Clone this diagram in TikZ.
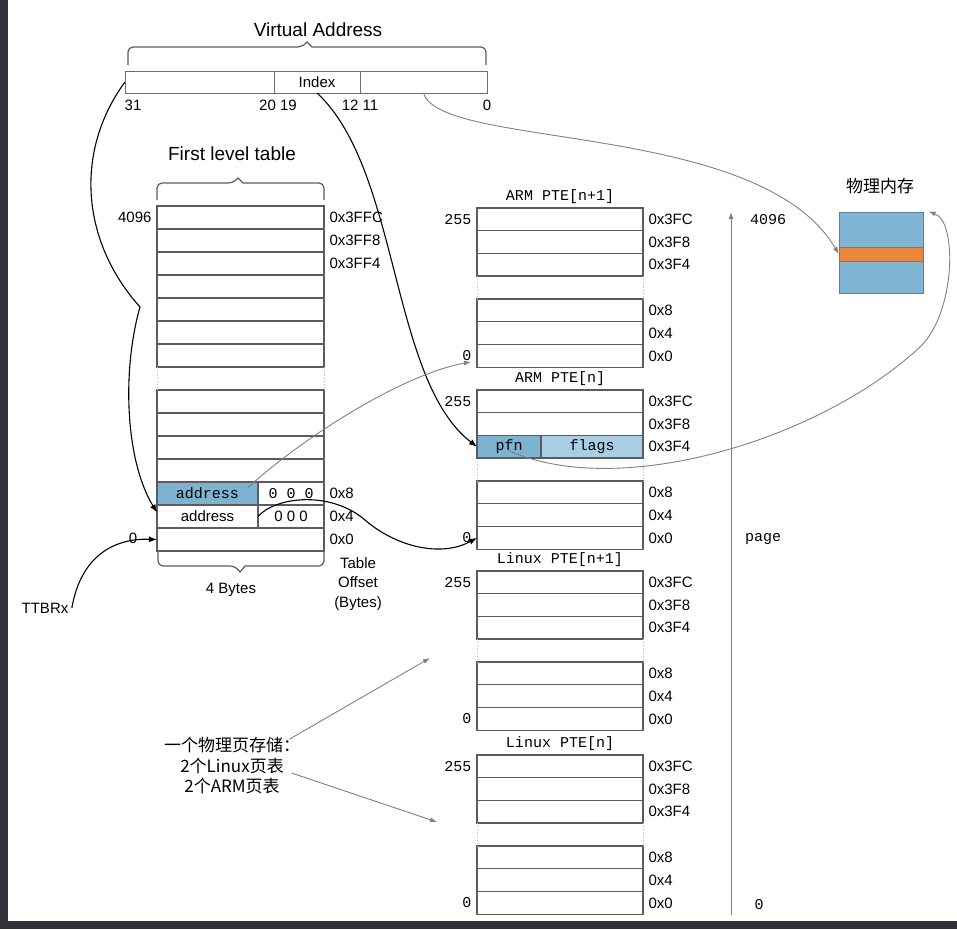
\documentclass[tikz,border=0pt]{standalone}
\usepackage{fontspec}
\setmainfont{Liberation Sans}
\newfontfamily\cjk{Noto Sans CJK SC}
\newfontfamily\simmono{Liberation Mono}
\usetikzlibrary{positioning,arrows.meta,calc}
\definecolor{cellline}{HTML}{5C5C5C}
\definecolor{valine}{HTML}{6E6E6E}
\definecolor{linkgray}{HTML}{808080}
\definecolor{gapgray}{HTML}{BBBBBB}
\definecolor{addrblue}{HTML}{7DB3D1}
\definecolor{flagblue}{HTML}{A9CEE4}
\definecolor{memblue}{HTML}{80B6D4}
\definecolor{memline}{HTML}{5E7F98}
\definecolor{memorange}{HTML}{E8873A}
\definecolor{darkframe}{HTML}{303238}

% one second level table: name, top edge, title
\newcommand{\ptetable}[3]{%
  \node[monotxt] (#1-title) at (560,#2-11) {#3};
  \foreach \i in {1,2,3}
    \node[pterow] (#1-\i) at (560,{#2-11.35+22.7*\i}) {};
  \foreach \i in {4,5,6}
    \node[pterow] (#1-\i) at (560,{#2+11.65+22.7*\i}) {};
  \foreach \i/\off in {1/0x3FC,2/0x3F8,3/0x3F4,4/0x8,5/0x4,6/0x0}
    \node[arialtxt, right=2pt of #1-\i] (#1-off\i) {\off};
  \node[monotxt, left=2pt of #1-1] (#1-max) {255};
  \node[monotxt, left=2pt of #1-6] (#1-min) {0};
  \draw[gapline] (#1-3.south west) -- (#1-4.north west);
  \draw[gapline] (#1-3.south east) -- (#1-4.north east);
}

\begin{document}
\begin{tikzpicture}[x=1pt, y=-1pt,
cell/.style={draw=cellline, line width=1.3pt, minimum width=167pt, minimum height=23pt, inner sep=0pt, outer sep=0pt},
pterow/.style={cell, minimum width=166pt, minimum height=22.7pt},
vacell/.style={draw=valine, line width=1pt, minimum height=22pt, inner sep=0pt, outer sep=0pt, font=\fontsize{15}{18}\selectfont},
arialtxt/.style={font=\fontsize{15}{18}\selectfont},
bigtxt/.style={font=\fontsize{19}{23}\selectfont},
monotxt/.style={font=\simmono\fontsize{15}{18}\selectfont},
cjktxt/.style={font=\cjk\fontsize{17}{20.5}\selectfont},
gapline/.style={draw=gapgray, dotted, line width=0.8pt},
bracket/.style={draw=cellline, line width=1.2pt},
link/.style={draw=black, line width=1.1pt, -{Latex[length=8pt,width=6pt]}},
graylink/.style={draw=linkgray, line width=0.9pt, -{Latex[length=7pt,width=5pt]}},
]
\useasboundingbox (0,0) rectangle (957,929);
\fill[darkframe] (0,0) rectangle (8,929);
\fill[darkframe] (0,921) rectangle (957,929);

% virtual address
\node[bigtxt] (va-title) at (318,30) {Virtual Address};
\draw[bracket] (128,65) [rounded corners=5pt] -- (128,47) -- (302,47) [sharp corners] -- (307,42) -- (312,47) [rounded corners=5pt] -- (486,47) -- (486,65);
\node[vacell, minimum width=149pt] (va-hi) at (199.5,82) {};
\node[vacell, minimum width=86pt, right=0pt of va-hi] (va-idx) {Index};
\node[vacell, minimum width=127pt, right=0pt of va-idx] (va-lo) {};
\node[arialtxt] (bit31) at (133,105) {31};
\node[arialtxt] (bit20) at (278,105) {20 19};
\node[arialtxt] (bit12) at (360,105) {12 11};
\node[arialtxt] (bit0) at (487,105) {0};

% first level table
\node[bigtxt] (fl-title) at (232,154) {First level table};
\draw[bracket] (157,200) [rounded corners=5pt] -- (157,183) -- (233,183) [sharp corners] -- (238,178) -- (243,183) [rounded corners=5pt] -- (324,183) -- (324,200);
\foreach \i in {1,...,7}
  \node[cell] (fl-\i) at (240.5,{194.5+23*\i}) {};
\foreach \i in {8,...,14}
  \node[cell] (fl-\i) at (240.5,{217.5+23*\i}) {};
\foreach \i/\off in {1/0x3FFC,2/0x3FF8,3/0x3FF4,12/0x8,13/0x4,14/0x0}
  \node[arialtxt, right=2pt of fl-\i] (fl-off\i) {\off};
\draw[gapline] (fl-7.south west) -- (fl-8.north west);
\draw[gapline] (fl-7.south east) -- (fl-8.north east);
\node[arialtxt, left=2pt of fl-1] (fl-max) {4096};
\node[cell, fill=addrblue, minimum width=101pt, anchor=west, monotxt] (fl-addr1) at (fl-12.west) {address};
\node[cell, minimum width=66pt, right=0pt of fl-addr1, monotxt] (fl-bits1) {0 0 0};
\node[cell, minimum width=101pt, anchor=west, arialtxt] (fl-addr2) at (fl-13.west) {address};
\node[cell, minimum width=66pt, right=0pt of fl-addr2, arialtxt] (fl-bits2) {0 0 0};
\draw[bracket] (158,551) [rounded corners=5pt] -- (158,566) -- (235,566) [sharp corners] -- (240,572) -- (245,566) [rounded corners=5pt] -- (324,566) -- (324,551);
\node[arialtxt] (fl-width) at (231,590) {4 Bytes};
\node[arialtxt, align=center, font=\fontsize{15}{19.5}\selectfont] (fl-offset) at (358,584) {Table\\Offset\\(Bytes)};

% second level tables
\ptetable{armnp}{208}{ARM PTE[n+1]}
\ptetable{armn}{390}{ARM PTE[n]}
\ptetable{linnp}{571}{Linux PTE[n+1]}
\ptetable{linn}{755}{Linux PTE[n]}
\node[pterow, fill=addrblue, minimum width=64pt, anchor=west, monotxt] (armn-pfn) at (armn-3.west) {pfn};
\node[pterow, fill=flagblue, minimum width=102pt, right=0pt of armn-pfn, monotxt] (armn-flags) {flags};

% page axis
\coordinate (page-lo) at (731,915);
\coordinate (page-hi) at (731,212);
\draw[graylink] (page-lo) -- (page-hi);
\node[monotxt] (page-max) at (768,220) {4096};
\node[monotxt] (page-name) at (763,539) {page};
\node[monotxt] (page-min) at (759,905) {0};

% physical memory
\node[cjktxt] (mem-title) at (880,186) {物理内存};
\node[draw=memline, fill=memblue, minimum width=84pt, minimum height=81pt, inner sep=0pt, line width=1pt] (mem) at (881,252.5) {};
\node[draw=memline, fill=memorange, minimum width=84pt, minimum height=14pt, inner sep=0pt, line width=0.6pt] (mem-page) at (881,254) {};

% note
\node[cjktxt, align=center] (note) at (232,766) {一个物理页存储：\\2个Linux页表\\2个ARM页表};
\coordinate (note-up) at (430,658);
\coordinate (note-down) at (437,822);
\draw[graylink] ([xshift=-14pt,yshift=-5pt]note.north east) -- (note-up);
\draw[graylink] ([xshift=-12pt,yshift=-7pt]note.east) -- (note-down);

% TTBRx
\node[arialtxt] (ttbr) at (45,608) {TTBRx};
\draw[link] (ttbr.east) .. controls (80,560) and (110,538) .. (fl-14.west);
\node[arialtxt] (fl-min) at (133,538) {0};

% links
\coordinate (fl-cusp) at (140,307);
\draw[link] (va-hi.west) .. controls (75,150) and (80,240) .. (fl-cusp) .. controls (122,370) and (125,460) .. ([yshift=4pt]fl-13.west);
\draw[link] (va-idx.south) .. controls (400,170) and (390,380) .. (armn-pfn.west);
\coordinate (fl-swing) at (365,520);
\draw[link] (fl-addr2.east) .. controls (275,497) and (330,490) .. (fl-swing) .. controls (395,546) and (440,558) .. (armn-6.west);
\draw[graylink] ([xshift=-10pt,yshift=6pt]fl-addr1.east) .. controls (300,440) and (400,375) .. ([xshift=-6pt,yshift=-6pt]armnp-6.west);
\draw[graylink] (va-lo.south) .. controls (440,150) and (760,120) .. (mem-page.west);
\coordinate (mem-turn) at (920,347);
\draw[graylink] ([yshift=-4pt]armn-pfn.center) .. controls (620,500) and (820,440) .. (mem-turn) .. controls (955,314) and (958,222) .. ([xshift=5pt]mem.north east);
\end{tikzpicture}
\end{document}
